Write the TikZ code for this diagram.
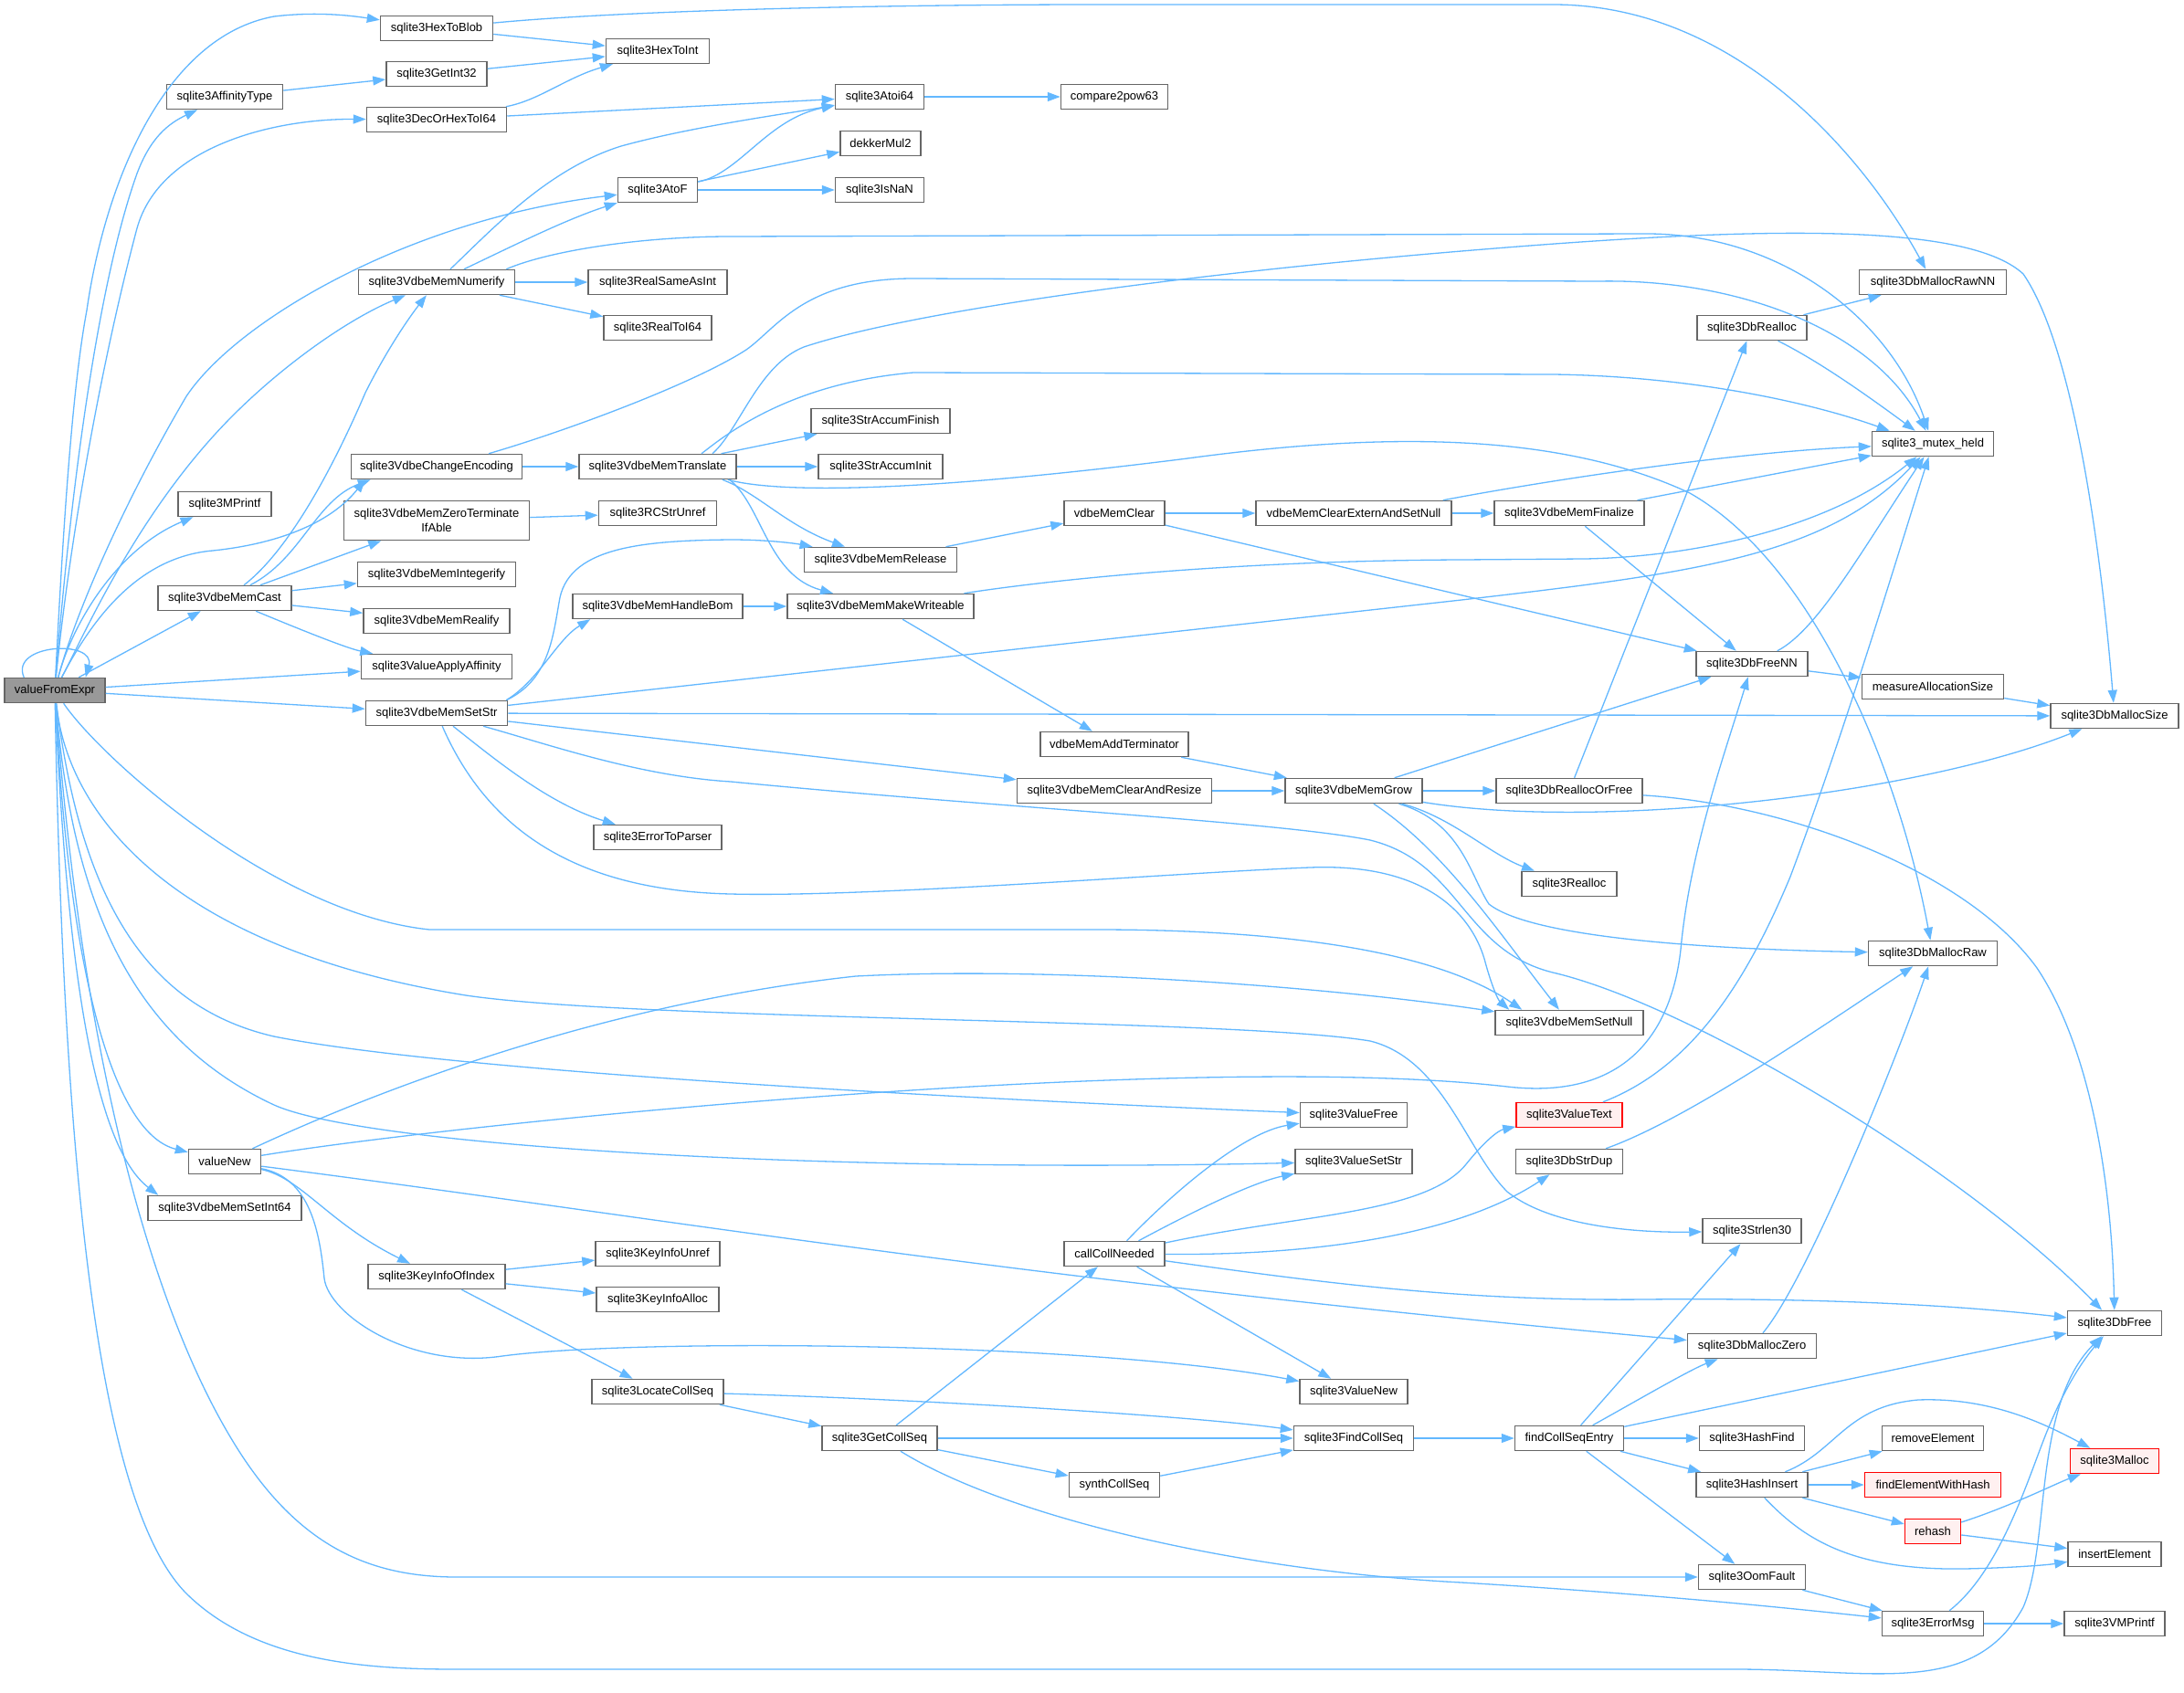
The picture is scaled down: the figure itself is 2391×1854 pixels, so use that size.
\documentclass[tikz,border=0pt]{standalone}
\usepackage{fontspec}
\setmainfont{Liberation Sans}
\usetikzlibrary{arrows.meta}
\definecolor{edgec}{HTML}{63B8FF}
\definecolor{bordc}{HTML}{666666}
\definecolor{redb}{HTML}{FF0000}
\definecolor{redf}{HTML}{FFF0F0}
\definecolor{rootf}{HTML}{999999}
\tikzset{
  nd/.style={draw=bordc, line width=1.5pt, fill=white, minimum height=27pt, inner sep=2pt, font=\fontsize{13}{16}\selectfont},
  rednd/.style={nd, draw=redb, fill=redf},
  rootnd/.style={nd, fill=rootf},
  edg/.style={draw=edgec, line width=1.3pt, -{Triangle[length=14pt,width=10pt]}}
}
\begin{document}
\begin{tikzpicture}[x=1pt,y=-1pt]
\fill[white] (0,0) rectangle (2391,1854);
\useasboundingbox (0,0) rectangle (2391,1854);

% ---------------- nodes ----------------
\node[rootnd, minimum width=110pt] (V) at (60,756) {valueFromExpr};
\node[nd, minimum width=123pt] (hexToBlob) at (478,31) {sqlite3HexToBlob};
\node[nd, minimum width=113pt] (hexToInt) at (720,56) {sqlite3HexToInt};
\node[nd, minimum width=110pt] (getInt32) at (478,81) {sqlite3GetInt32};
\node[nd, minimum width=127pt] (affType) at (246,106) {sqlite3AffinityType};
\node[nd, minimum width=153pt] (decHex) at (478,131) {sqlite3DecOrHexToI64};
\node[nd, minimum width=97pt] (atoi64) at (963,106) {sqlite3Atoi64};
\node[nd, minimum width=117pt] (cmp63) at (1220,106) {compare2pow63};
\node[nd, minimum width=88pt] (dekker) at (964,157) {dekkerMul2};
\node[nd, minimum width=87pt] (atof) at (720,208) {sqlite3AtoF};
\node[nd, minimum width=97pt] (isnan) at (963,208) {sqlite3IsNaN};
\node[nd, minimum width=171pt] (numerify) at (478,309) {sqlite3VdbeMemNumerify};
\node[nd, minimum width=152pt] (realSame) at (720,309) {sqlite3RealSameAsInt};
\node[nd, minimum width=118pt] (realToI64) at (720,359) {sqlite3RealToI64};
\node[nd, minimum width=152pt] (accFinish) at (964,461) {sqlite3StrAccumFinish};
\node[nd, minimum width=187pt] (chEnc) at (478,511) {sqlite3VdbeChangeEncoding};
\node[nd, minimum width=172pt] (translate) at (720,511) {sqlite3VdbeMemTranslate};
\node[nd, minimum width=136pt] (accInit) at (964,511) {sqlite3StrAccumInit};
\node[nd, minimum width=102pt] (mprintf) at (246,552) {sqlite3MPrintf};
\node[nd, minimum width=203pt, minimum height=43pt, align=center] (zeroTerm) at (478,570) {sqlite3VdbeMemZeroTerminate\\IfAble};
\node[nd, minimum width=129pt] (rcUnref) at (720,562) {sqlite3RCStrUnref};
\node[nd, minimum width=110pt] (memClear) at (1220,562) {vdbeMemClear};
\node[nd, minimum width=214pt] (clearExt) at (1482,562) {vdbeMemClearExternAndSetNull};
\node[nd, minimum width=164pt] (finalize) at (1718,562) {sqlite3VdbeMemFinalize};
\node[nd, minimum width=120pt] (dbRealloc) at (1918,359) {sqlite3DbRealloc};
\node[nd, minimum width=161pt] (rawNN) at (2116,309) {sqlite3DbMallocRawNN};
\node[nd, minimum width=133pt] (mutex) at (2116,486) {sqlite3\_mutex\_held};
\node[nd, minimum width=167pt] (release) at (964,613) {sqlite3VdbeMemRelease};
\node[nd, minimum width=173pt] (integerify) at (478,629) {sqlite3VdbeMemIntegerify};
\node[nd, minimum width=146pt] (cast) at (246,655) {sqlite3VdbeMemCast};
\node[nd, minimum width=186pt] (handleBom) at (720,664) {sqlite3VdbeMemHandleBom};
\node[nd, minimum width=204pt] (makeWr) at (964,664) {sqlite3VdbeMemMakeWriteable};
\node[nd, minimum width=160pt] (realify) at (478,680) {sqlite3VdbeMemRealify};
\node[nd, minimum width=122pt] (freeNN) at (1918,727) {sqlite3DbFreeNN};
\node[nd, minimum width=165pt] (applyAff) at (478,730) {sqlite3ValueApplyAffinity};
\node[nd, minimum width=155pt] (measure) at (2116,752) {measureAllocationSize};
\node[nd, minimum width=155pt] (setStr) at (478,781) {sqlite3VdbeMemSetStr};
\node[nd, minimum width=140pt] (mallocSize) at (2315,784) {sqlite3DbMallocSize};
\node[nd, minimum width=162pt] (addTerm) at (1220,815) {vdbeMemAddTerminator};
\node[nd, minimum width=213pt] (clrResize) at (1220,866) {sqlite3VdbeMemClearAndResize};
\node[nd, minimum width=150pt] (grow) at (1482,866) {sqlite3VdbeMemGrow};
\node[nd, minimum width=160pt] (reallocOrFree) at (1718,866) {sqlite3DbReallocOrFree};
\node[nd, minimum width=140pt] (errParser) at (720,917) {sqlite3ErrorToParser};
\node[nd, minimum width=104pt] (realloc) at (1718,968) {sqlite3Realloc};
\node[nd, minimum width=141pt] (mallocRaw) at (2116,1044) {sqlite3DbMallocRaw};
\node[nd, minimum width=162pt] (setNull) at (1718,1120) {sqlite3VdbeMemSetNull};
\node[nd, minimum width=117pt] (valueFree) at (1482,1221) {sqlite3ValueFree};
\node[rednd, minimum width=116pt] (valueText) at (1718,1221) {sqlite3ValueText};
\node[nd, minimum width=79pt] (valueNew) at (246,1272) {valueNew};
\node[nd, minimum width=128pt] (valueSetStr) at (1482,1272) {sqlite3ValueSetStr};
\node[nd, minimum width=117pt] (strDup) at (1718,1272) {sqlite3DbStrDup};
\node[nd, minimum width=168pt] (setInt64) at (246,1323) {sqlite3VdbeMemSetInt64};
\node[nd, minimum width=108pt] (strlen) at (1918,1348) {sqlite3Strlen30};
\node[nd, minimum width=136pt] (kiUnref) at (720,1373) {sqlite3KeyInfoUnref};
\node[nd, minimum width=110pt] (callColl) at (1220,1373) {callCollNeeded};
\node[nd, minimum width=150pt] (kiOfIndex) at (478,1398) {sqlite3KeyInfoOfIndex};
\node[nd, minimum width=134pt] (kiAlloc) at (720,1423) {sqlite3KeyInfoAlloc};
\node[nd, minimum width=103pt] (dbFree) at (2315,1449) {sqlite3DbFree};
\node[nd, minimum width=141pt] (mallocZero) at (1918,1474) {sqlite3DbMallocZero};
\node[nd, minimum width=144pt] (locColl) at (720,1524) {sqlite3LocateCollSeq};
\node[nd, minimum width=118pt] (sqValueNew) at (1482,1524) {sqlite3ValueNew};
\node[nd, minimum width=126pt] (getColl) at (963,1575) {sqlite3GetCollSeq};
\node[nd, minimum width=131pt] (findColl) at (1482,1575) {sqlite3FindCollSeq};
\node[nd, minimum width=119pt] (fcEntry) at (1718,1575) {findCollSeqEntry};
\node[nd, minimum width=115pt] (hashFind) at (1918,1575) {sqlite3HashFind};
\node[nd, minimum width=111pt] (removeEl) at (2116,1575) {removeElement};
\node[rednd, minimum width=97pt] (malloc) at (2315,1600) {sqlite3Malloc};
\node[nd, minimum width=99pt] (synth) at (1220,1626) {synthCollSeq};
\node[nd, minimum width=122pt] (hashInsert) at (1918,1626) {sqlite3HashInsert};
\node[rednd, minimum width=149pt] (findElem) at (2116,1626) {findElementWithHash};
\node[rednd, minimum width=61pt] (rehash) at (2116,1677) {rehash};
\node[nd, minimum width=102pt] (insertEl) at (2315,1702) {insertElement};
\node[nd, minimum width=117pt] (oom) at (1918,1727) {sqlite3OomFault};
\node[nd, minimum width=111pt] (errMsg) at (2116,1778) {sqlite3ErrorMsg};
\node[nd, minimum width=110pt] (vmprintf) at (2315,1778) {sqlite3VMPrintf};

% ---------------- edges from valueFromExpr ----------------
\draw[edg] (V) .. controls (70,560) and (80,420) .. (95,340) .. controls (115,200) and (180,40) .. (300,18) .. controls (350,12) and (390,18) .. (hexToBlob);
\draw[edg] (V) .. controls (72,600) and (100,330) .. (150,190) .. controls (165,150) and (185,135) .. (affType);
\draw[edg] (V) .. controls (75,600) and (110,400) .. (150,250) .. controls (175,160) and (300,130) .. (decHex);
\draw[edg] (V) .. controls (80,680) and (130,560) .. (204,434) .. controls (260,350) and (450,240) .. (atof);
\draw[edg] (V) .. controls (90,700) and (150,560) .. (255,455) .. controls (310,400) and (380,350) .. (numerify);
\draw[edg] (V) .. controls (80,680) and (130,600) .. (mprintf);
\draw[edg] (V) .. controls (100,680) and (150,610) .. (233,603) .. controls (300,596) and (360,575) .. ([xshift=16pt]chEnc.south west);
\draw[edg] (V) -- (cast);
\draw[edg] (V) -- (applyAff);
\draw[edg] (V) -- (setStr);
\draw[edg] ([xshift=22pt]V.north west) .. controls (10,705) and (105,700) .. ([xshift=-22pt]V.north east);
\draw[edg] (V) .. controls (110,830) and (300,1000) .. (470,1018) -- (1200,1018) .. controls (1400,1018) and (1570,1040) .. ([xshift=30pt]setNull.north west);
\draw[edg] (V) .. controls (75,900) and (200,1040) .. (510,1090) .. controls (700,1118) and (1350,1115) .. (1500,1140) .. controls (1580,1160) and (1605,1260) .. (1650,1305) .. controls (1700,1345) and (1800,1350) .. (strlen);
\draw[edg] (V) .. controls (90,1000) and (170,1105) .. (300,1135) .. controls (500,1175) and (1100,1205) .. (valueFree);
\draw[edg] (V) .. controls (80,1000) and (150,1140) .. (300,1210) .. controls (400,1255) and (900,1285) .. (valueSetStr);
\draw[edg] (V) .. controls (75,1050) and (120,1240) .. (valueNew);
\draw[edg] (V) .. controls (75,1100) and (110,1260) .. ([xshift=12pt]setInt64.north west);
\draw[edg] (V) .. controls (85,1100) and (150,1400) .. (250,1570) .. controls (320,1690) and (400,1727) .. (500,1727) -- (oom);
\draw[edg] (V) .. controls (70,1300) and (110,1650) .. (204,1745) .. controls (280,1820) and (400,1828) .. (500,1828) -- (1900,1828) .. controls (2050,1828) and (2160,1860) .. (2215,1760) .. controls (2245,1690) and (2225,1540) .. (dbFree);

% ---------------- upper part ----------------
\draw[edg] (hexToBlob) -- (hexToInt);
\draw[edg] (hexToBlob) .. controls (700,10) and (1000,5) .. (1200,5) -- (1700,5) .. controls (1900,5) and (2040,170) .. (rawNN);
\draw[edg] (affType) -- (getInt32);
\draw[edg] (getInt32) -- (hexToInt);
\draw[edg] (decHex) .. controls (590,110) and (620,85) .. (hexToInt);
\draw[edg] (decHex) -- (atoi64);
\draw[edg] (atoi64) -- (cmp63);
\draw[edg] (atof) .. controls (810,190) and (840,130) .. (atoi64);
\draw[edg] (atof) -- (dekker);
\draw[edg] (atof) -- (isnan);
\draw[edg] (numerify) .. controls (540,250) and (600,185) .. (680,160) .. controls (760,138) and (860,125) .. (atoi64);
\draw[edg] (numerify) .. controls (560,270) and (620,240) .. (atof);
\draw[edg] (numerify) -- (realSame);
\draw[edg] (numerify) -- (realToI64);
\draw[edg] ([xshift=-10pt]numerify.north east) .. controls (600,275) and (700,259) .. (800,259) -- (1800,256) .. controls (1950,255) and (2070,350) .. (mutex);

\draw[edg] (cast) .. controls (330,612) and (345,548) .. ([xshift=22pt]chEnc.south west);
\draw[edg] ([xshift=21pt]cast.north) .. controls (320,600) and (370,500) .. (400,430) .. controls (425,380) and (450,345) .. (numerify);
\draw[edg] (cast) -- (zeroTerm);
\draw[edg] (cast) -- (integerify);
\draw[edg] (cast) -- (realify);
\draw[edg] (cast) .. controls (330,690) and (380,710) .. (applyAff);

\draw[edg] (chEnc) -- (translate);
\draw[edg] ([xshift=57pt]chEnc.north) .. controls (620,472) and (760,420) .. (817,383) .. controls (850,360) and (880,305) .. (1000,305) -- (1750,308) .. controls (1900,305) and (2050,360) .. (mutex);
\draw[edg] ([xshift=48pt]translate.north) .. controls (790,480) and (860,420) .. (1000,408) -- (1700,410) .. controls (1850,412) and (1980,440) .. ([xshift=20pt]mutex.north west);
\draw[edg] ([xshift=60pt]translate.north) .. controls (810,470) and (830,400) .. (880,380) .. controls (1000,340) and (1300,300) .. (1600,275) .. controls (1900,250) and (2150,240) .. (2215,300) .. controls (2270,380) and (2300,600) .. (mallocSize);
\draw[edg] (translate) -- (accFinish);
\draw[edg] (translate) -- (accInit);
\draw[edg] ([xshift=-16pt]translate.south east) .. controls (830,540) and (860,575) .. (release);
\draw[edg] ([xshift=-8pt]translate.south east) .. controls (835,555) and (840,630) .. (makeWr);
\draw[edg] ([xshift=-10pt]translate.south east) .. controls (850,540) and (1000,540) .. (1300,502) .. controls (1500,475) and (1700,470) .. (1850,540) .. controls (1990,620) and (2080,850) .. (mallocRaw);

\draw[edg] (zeroTerm) -- (rcUnref);

% ---------------- sqlite3VdbeMemSetStr ----------------
\draw[edg] ([xshift=-2pt]setStr.north east) .. controls (590,745) and (610,700) .. ([xshift=20pt]handleBom.south west);
\draw[edg] ([xshift=-2pt]setStr.north east) .. controls (600,745) and (605,700) .. (612,660) .. controls (620,600) and (700,592) .. (800,591) .. controls (840,591) and (870,595) .. (release);
\draw[edg] (setStr) -- (1600,657) .. controls (1850,628) and (2000,610) .. (mutex);
\draw[edg] (setStr) -- (mallocSize);
\draw[edg] (setStr) -- (clrResize);
\draw[edg] (setStr) .. controls (540,830) and (600,880) .. (errParser);
\draw[edg] (setStr) .. controls (530,900) and (620,975) .. (800,979) .. controls (950,983) and (1300,955) .. (1434,950) .. controls (1560,945) and (1610,1000) .. (1625,1050) .. controls (1633,1080) and (1640,1095) .. ([xshift=16pt]setNull.north west);
\draw[edg] (setStr) .. controls (600,815) and (700,850) .. (800,856) .. controls (1100,885) and (1400,900) .. (1500,920) .. controls (1600,945) and (1600,1040) .. (1700,1065) .. controls (1850,1100) and (2150,1280) .. (dbFree);

% ---------------- memory management ----------------
\draw[edg] (release) -- (memClear);
\draw[edg] (memClear) -- (clearExt);
\draw[edg] (memClear) -- (freeNN);
\draw[edg] (clearExt) -- (finalize);
\draw[edg] ([xshift=-10pt]clearExt.north east) .. controls (1700,525) and (1900,495) .. (mutex);
\draw[edg] (finalize) -- (mutex);
\draw[edg] (finalize) -- (freeNN);
\draw[edg] (dbRealloc) -- (rawNN);
\draw[edg] (dbRealloc) .. controls (1990,395) and (2040,430) .. (mutex);
\draw[edg] (reallocOrFree) -- (dbRealloc);
\draw[edg] (reallocOrFree) .. controls (1950,880) and (2150,950) .. (2230,1060) .. controls (2290,1150) and (2312,1300) .. (dbFree);
\draw[edg] (grow) -- (reallocOrFree);
\draw[edg] (grow) -- (freeNN);
\draw[edg] (grow) .. controls (1750,910) and (2100,870) .. (mallocSize);
\draw[edg] (grow) .. controls (1590,895) and (1630,935) .. (realloc);
\draw[edg] (grow) .. controls (1600,900) and (1610,960) .. (1630,990) .. controls (1680,1030) and (1900,1040) .. (mallocRaw);
\draw[edg] (grow) .. controls (1580,930) and (1640,1020) .. (setNull);
\draw[edg] (addTerm) -- (grow);
\draw[edg] (clrResize) -- (grow);
\draw[edg] (makeWr) -- (addTerm);
\draw[edg] (makeWr) .. controls (1150,635) and (1350,614) .. (1600,613) -- (1735,612) .. controls (1850,610) and (2000,580) .. (mutex);
\draw[edg] (handleBom) -- (makeWr);
\draw[edg] (freeNN) -- (measure);
\draw[edg] (freeNN) .. controls (1990,690) and (2040,600) .. (mutex);
\draw[edg] (valueText) .. controls (1850,1170) and (1910,1080) .. (1960,960) .. controls (2020,800) and (2080,600) .. (mutex);
\draw[edg] (measure) -- (mallocSize);

% ---------------- valueNew ----------------
\draw[edg] (valueNew) .. controls (330,1290) and (360,1340) .. (kiOfIndex);
\draw[edg] (valueNew) .. controls (340,1290) and (350,1350) .. (355,1400) .. controls (360,1440) and (450,1500) .. (550,1485) .. controls (700,1465) and (1200,1470) .. (sqValueNew);
\draw[edg] (valueNew) .. controls (700,1330) and (1100,1400) .. (mallocZero);
\draw[edg] (valueNew) .. controls (500,1230) and (1300,1150) .. (1650,1190) .. controls (1780,1205) and (1830,1130) .. (1840,1040) .. controls (1850,930) and (1890,820) .. (freeNN);
\draw[edg] (valueNew) .. controls (400,1200) and (650,1100) .. (937,1069) .. controls (1150,1058) and (1450,1080) .. (setNull);

\draw[edg] (kiOfIndex) -- (kiUnref);
\draw[edg] (kiOfIndex) -- (kiAlloc);
\draw[edg] (kiOfIndex) -- (locColl);

% ---------------- collation ----------------
\draw[edg] (locColl) -- (getColl);
\draw[edg] (locColl) .. controls (1000,1532) and (1300,1550) .. (findColl);
\draw[edg] (getColl) -- (callColl);
\draw[edg] (getColl) -- (findColl);
\draw[edg] (getColl) -- (synth);
\draw[edg] (getColl) .. controls (1100,1660) and (1350,1720) .. (1600,1733) .. controls (1800,1745) and (1950,1760) .. (errMsg);
\draw[edg] (synth) -- (findColl);
\draw[edg] (findColl) -- (fcEntry);

\draw[edg] (callColl) .. controls (1280,1310) and (1360,1240) .. (valueFree);
\draw[edg] (callColl) .. controls (1300,1330) and (1370,1295) .. (valueSetStr);
\draw[edg] (callColl) .. controls (1420,1330) and (1560,1330) .. (1605,1275) .. controls (1625,1250) and (1640,1238) .. (valueText);
\draw[edg] (callColl) .. controls (1450,1375) and (1600,1350) .. (strDup);
\draw[edg] (callColl) .. controls (1450,1405) and (1600,1425) .. (1800,1423) .. controls (2000,1421) and (2150,1430) .. (dbFree);
\draw[edg] (callColl) -- (sqValueNew);

\draw[edg] (strDup) .. controls (1850,1225) and (2000,1120) .. (mallocRaw);
\draw[edg] (mallocZero) .. controls (1980,1400) and (2080,1150) .. (mallocRaw);

\draw[edg] (fcEntry) -- (strlen);
\draw[edg] (fcEntry) .. controls (1790,1535) and (1850,1500) .. (mallocZero);
\draw[edg] (fcEntry) -- (dbFree);
\draw[edg] (fcEntry) -- (hashFind);
\draw[edg] (fcEntry) -- (hashInsert);
\draw[edg] (fcEntry) -- (oom);

\draw[edg] (hashInsert) -- (removeEl);
\draw[edg] (hashInsert) -- (findElem);
\draw[edg] (hashInsert) -- (rehash);
\draw[edg] (hashInsert) .. controls (2010,1590) and (2020,1540) .. (2100,1533) .. controls (2180,1530) and (2240,1560) .. (malloc);
\draw[edg] (hashInsert) .. controls (1970,1680) and (2020,1720) .. (2150,1718) .. controls (2200,1717) and (2240,1714) .. (insertEl);
\draw[edg] (rehash) .. controls (2200,1650) and (2250,1625) .. (malloc);
\draw[edg] (rehash) -- (insertEl);
\draw[edg] (oom) -- (errMsg);
\draw[edg] (errMsg) -- (vmprintf);
\draw[edg] (errMsg) .. controls (2190,1720) and (2220,1620) .. (2240,1570) .. controls (2260,1520) and (2280,1490) .. (dbFree);
\end{tikzpicture}
\end{document}
